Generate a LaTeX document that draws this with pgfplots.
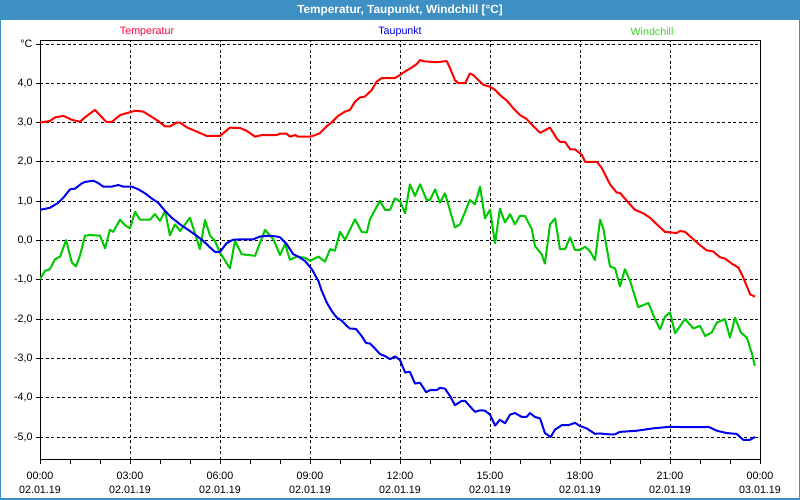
\documentclass[border=0pt]{standalone}
\usepackage{pgfplots}
\pgfplotsset{compat=1.18}
\usepackage{fontspec}
\setmainfont{Liberation Sans}
\definecolor{barblue}{RGB}{61,143,196}
\definecolor{tempred}{RGB}{255,0,0}
\definecolor{tpblue}{RGB}{0,0,240}
\definecolor{wcgreen}{RGB}{0,200,0}
\definecolor{legred}{RGB}{255,0,64}
\definecolor{leggreen}{RGB}{60,215,40}

% hours since 02.01.19 00:00, degrees C
\pgfplotstableread{
h v
0 3.0
0.33 3.04
0.5 3.13
0.78 3.17
1.06 3.07
1.33 3.02
1.56 3.17
1.83 3.32
2.22 3.01
2.4 3.02
2.67 3.19
2.89 3.24
3.17 3.30
3.44 3.28
3.67 3.17
3.94 3.04
4.17 2.90
4.33 2.90
4.56 3.0
4.67 3.0
4.89 2.88
5.22 2.77
5.56 2.66
6.0 2.66
6.33 2.87
6.67 2.86
6.89 2.79
7.17 2.64
7.39 2.68
7.56 2.68
7.89 2.68
8.0 2.72
8.22 2.72
8.33 2.64
8.5 2.68
8.61 2.64
9.0 2.64
9.17 2.68
9.33 2.73
9.56 2.91
9.72 3.0
9.94 3.17
10.17 3.28
10.33 3.32
10.5 3.53
10.67 3.64
10.83 3.66
11.06 3.83
11.22 4.04
11.39 4.13
11.83 4.13
12.0 4.21
12.17 4.30
12.39 4.40
12.56 4.49
12.67 4.59
12.78 4.56
13.11 4.54
13.28 4.54
13.5 4.56
13.56 4.56
13.67 4.38
13.83 4.08
13.94 4.0
14.17 4.0
14.33 4.25
14.44 4.21
14.61 4.08
14.78 3.96
15.0 3.91
15.17 3.83
15.39 3.66
15.56 3.56
15.78 3.36
16.0 3.19
16.22 3.09
16.44 2.91
16.67 2.74
17.0 2.87
17.22 2.60
17.33 2.51
17.5 2.51
17.67 2.32
17.83 2.32
18.06 2.18
18.17 2.0
18.56 2.0
18.72 1.85
19.0 1.43
19.22 1.22
19.33 1.21
19.56 1.01
19.83 0.78
20.11 0.69
20.33 0.58
20.56 0.41
20.83 0.22
21.22 0.19
21.33 0.24
21.5 0.22
21.78 0.03
22.0 -0.12
22.22 -0.25
22.44 -0.28
22.67 -0.43
22.83 -0.46
23.06 -0.59
23.28 -0.69
23.44 -0.94
23.67 -1.37
23.83 -1.43
}\temperatur

\pgfplotstableread{
h v
0 0.78
0.33 0.83
0.61 0.96
0.78 1.09
1.0 1.30
1.17 1.32
1.39 1.45
1.5 1.49
1.78 1.52
1.94 1.46
2.11 1.37
2.39 1.37
2.61 1.41
2.78 1.37
3.06 1.37
3.28 1.30
3.5 1.20
3.72 1.07
3.94 0.96
4.17 0.75
4.39 0.58
4.67 0.41
4.94 0.27
5.22 0.12
5.44 -0.01
5.67 -0.18
5.83 -0.29
6.0 -0.29
6.22 -0.07
6.44 0.02
6.78 0.03
7.11 0.03
7.33 0.10
7.67 0.12
7.89 0.10
8.0 0.08
8.22 -0.09
8.44 -0.35
8.61 -0.41
8.83 -0.52
9.06 -0.73
9.28 -1.03
9.39 -1.28
9.56 -1.58
9.72 -1.79
9.89 -1.96
10.06 -2.04
10.22 -2.17
10.33 -2.24
10.53 -2.25
10.72 -2.43
10.87 -2.61
11.0 -2.62
11.17 -2.75
11.33 -2.89
11.5 -2.94
11.67 -3.02
11.83 -2.95
12.0 -3.04
12.17 -3.36
12.33 -3.34
12.5 -3.64
12.67 -3.62
12.87 -3.86
13.0 -3.81
13.22 -3.81
13.33 -3.75
13.5 -3.77
13.67 -3.96
13.83 -4.19
14.06 -4.08
14.17 -4.08
14.33 -4.22
14.5 -4.36
14.67 -4.32
14.83 -4.33
15.0 -4.43
15.17 -4.71
15.33 -4.56
15.5 -4.65
15.67 -4.43
15.83 -4.39
16.06 -4.49
16.22 -4.49
16.33 -4.39
16.5 -4.49
16.67 -4.53
16.83 -4.90
17.02 -5.0
17.17 -4.81
17.39 -4.70
17.61 -4.70
17.83 -4.64
18.0 -4.72
18.22 -4.78
18.5 -4.92
18.67 -4.91
18.94 -4.93
19.17 -4.93
19.33 -4.87
19.89 -4.84
20.44 -4.78
21.0 -4.74
21.56 -4.75
22.06 -4.75
22.28 -4.74
22.56 -4.84
22.89 -4.90
23.22 -4.92
23.44 -5.07
23.67 -5.07
23.83 -5.0
}\taupunkt

\pgfplotstableread{
h v
0 -0.98
0.17 -0.77
0.33 -0.73
0.5 -0.48
0.67 -0.41
0.87 0.01
1.06 -0.56
1.2 -0.66
1.33 -0.39
1.5 0.12
1.67 0.14
2.0 0.12
2.17 -0.2
2.33 0.27
2.44 0.22
2.67 0.53
2.83 0.39
3.0 0.31
3.17 0.73
3.33 0.53
3.67 0.53
3.83 0.67
4.0 0.50
4.17 0.75
4.33 0.13
4.5 0.41
4.67 0.24
5.0 0.58
5.33 -0.22
5.5 0.52
5.67 0.12
5.83 -0.01
6.0 -0.31
6.33 -0.71
6.5 -0.01
6.72 -0.35
7.17 -0.39
7.5 0.27
7.78 0.03
8.0 -0.37
8.17 -0.09
8.33 -0.49
8.56 -0.41
8.83 -0.44
9.0 -0.52
9.28 -0.41
9.5 -0.54
9.67 -0.22
9.83 -0.26
10.0 0.22
10.17 0.02
10.5 0.54
10.72 0.22
10.89 0.2
11.0 0.54
11.33 1.01
11.5 0.78
11.67 0.78
11.83 1.07
12.0 1.0
12.17 0.69
12.33 1.43
12.5 1.13
12.67 1.43
12.89 1.03
13.0 1.03
13.17 1.3
13.33 0.96
13.5 1.20
13.83 0.33
14.0 0.41
14.33 1.03
14.5 0.92
14.67 1.37
14.83 0.56
15.0 0.78
15.17 -0.07
15.33 0.81
15.5 0.46
15.67 0.67
15.83 0.41
16.0 0.63
16.17 0.62
16.39 0.29
16.5 -0.14
16.72 -0.35
16.83 -0.59
17.0 0.41
17.17 0.56
17.33 -0.22
17.5 -0.22
17.67 0.08
17.83 -0.24
18.0 -0.24
18.17 -0.16
18.33 -0.27
18.5 -0.50
18.67 0.53
18.78 0.29
19.0 -0.66
19.17 -0.71
19.33 -1.17
19.5 -0.73
19.67 -1.03
19.94 -1.70
20.28 -1.59
20.5 -2.0
20.67 -2.26
20.83 -1.94
21.0 -1.83
21.17 -2.36
21.5 -2.0
21.78 -2.24
22.0 -2.17
22.17 -2.43
22.39 -2.34
22.56 -2.09
22.83 -2.0
23.0 -2.47
23.17 -1.96
23.36 -2.34
23.56 -2.47
23.72 -2.85
23.83 -3.19
}\windchill

\begin{document}
\begin{tikzpicture}[x=1pt,y=1pt]
	% window: white body, blue title bar, thin blue frame
	\fill[white] (-40,-40) rectangle (760,460);
	\fill[barblue] (-40,439.5) rectangle (760,460);
	\draw[barblue, line width=1.5pt] (-39.25,-39.25) rectangle (759.25,459.25);
	\node[white, font=\bfseries\fontsize{11.8}{13}\selectfont] at (360,450) {Temperatur, Taupunkt, Windchill [°C]};
	% series names above the plot
	\node[legred, font=\fontsize{10.7}{12}\selectfont] at (107,428) {Temperatur};
	\node[tpblue, font=\fontsize{10.7}{12}\selectfont] at (360,428) {Taupunkt};
	\node[leggreen, font=\fontsize{10.7}{12}\selectfont] at (612,428) {Windchill};

	\begin{axis}[
	at={(0,0)}, anchor=south west,
	scale only axis,
	width=720pt, height=420pt,
	xmin=0, xmax=24,
	ymin=-5.585, ymax=5.10,
	axis line style={black, line width=1pt},
	xtick={0,3,...,24},
	minor xtick={0,1,...,24},
	xtick pos=bottom, ytick pos=left,
	tick align=outside,
	major tick length=4pt, minor tick length=4pt,
	tick style={black, line width=0.8pt},
	xticklabels={{00:00\\02.01.19},{03:00\\02.01.19},{06:00\\02.01.19},{09:00\\02.01.19},{12:00\\02.01.19},{15:00\\02.01.19},{18:00\\02.01.19},{21:00\\02.01.19},{00:00\\03.01.19}},
	xticklabel style={align=center, font=\fontsize{10.7}{14.5}\selectfont, yshift=-4pt},
	ytick={-5,-4,...,5},
	yticklabels={{-5,0},{-4,0},{-3,0},{-2,0},{-1,0},{0,0},{1,0},{2,0},{3,0},{4,0},°C},
	yticklabel style={font=\fontsize{10.7}{12}\selectfont},
	grid=major,
	major grid style={black, line width=0.8pt, dash pattern=on 3pt off 2.5pt},
	no markers,
	every axis plot/.append style={line width=2pt, line join=round},
	]
		\addplot [tempred] table [x=h, y=v] {\temperatur};
		\addplot [wcgreen] table [x=h, y=v] {\windchill};
		\addplot [tpblue] table [x=h, y=v] {\taupunkt};
	\end{axis}
\end{tikzpicture}
\end{document}
